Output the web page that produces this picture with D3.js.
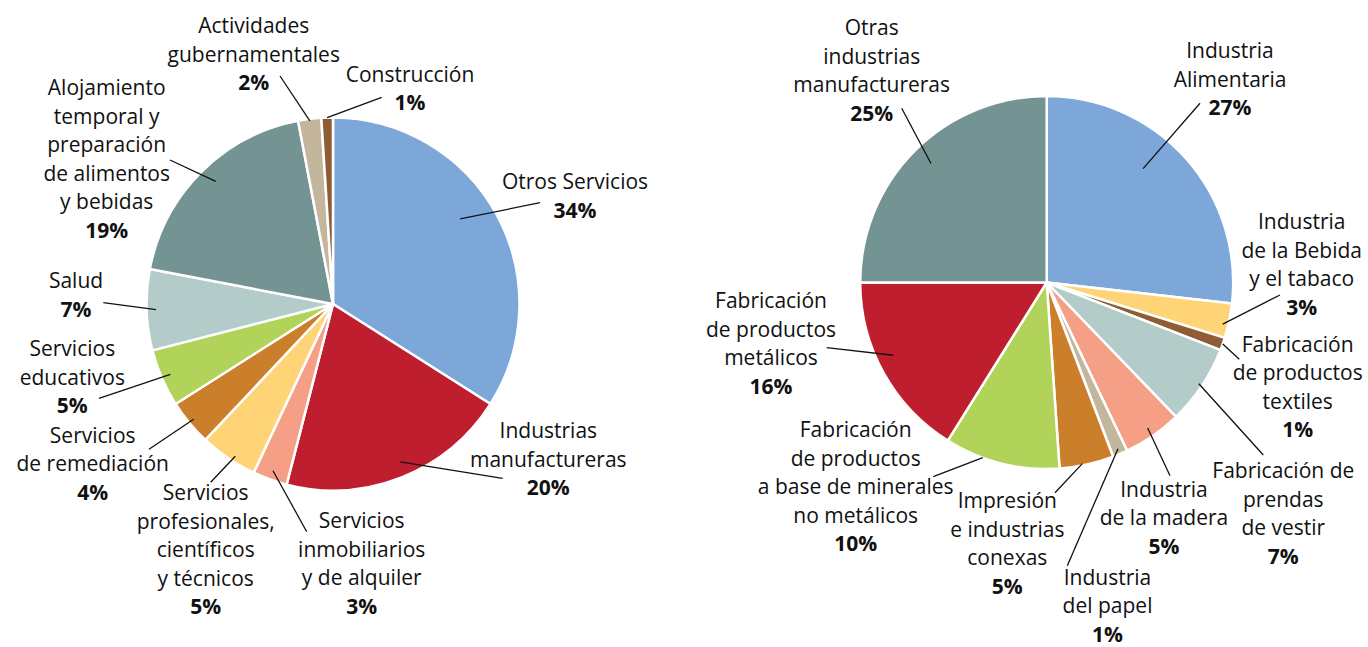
<!DOCTYPE html>
<html>
<head>
<meta charset="utf-8">
<script src="https://cdn.jsdelivr.net/npm/d3@7"></script>
<style>
  html, body { margin: 0; padding: 0; background: #fff; }
  svg { display: block; }
  text { font-family: "Open Sans", "Noto Sans", sans-serif; fill: #111; }
</style>
</head>
<body>
<svg id="chart" width="1368" height="647"></svg>
<script>
// ---------- DATA ----------
const leftCategories = [
  "Otros Servicios",
  "Industrias\nmanufactureras",
  "Servicios\ninmobiliarios\ny de alquiler",
  "Servicios\nprofesionales,\ncientíficos\ny técnicos",
  "Servicios\nde remediación",
  "Servicios\neducativos",
  "Salud",
  "Alojamiento\ntemporal y\npreparación\nde alimentos\ny bebidas",
  "Actividades\ngubernamentales",
  "Construcción"
];
const leftValues = [34, 20, 3, 5, 4, 5, 7, 19, 2, 1];

const rightCategories = [
  "Industria\nAlimentaria",
  "Industria\nde la Bebida\ny el tabaco",
  "Fabricación\nde productos\ntextiles",
  "Fabricación de\nprendas\nde vestir",
  "Industria\nde la madera",
  "Industria\ndel papel",
  "Impresión\ne industrias\nconexas",
  "Fabricación\nde productos\na base de minerales\nno metálicos",
  "Fabricación\nde productos\nmetálicos",
  "Otras\nindustrias\nmanufactureras"
];
const rightValues = [26.8, 3.0, 1.1, 6.9, 5.1, 1.3, 4.7, 10.0, 16.1, 25.0];

// ---------- STYLE ----------
const C = {
  blue: "#7da7d9", red: "#be1e2e", salmon: "#f5a086", yellow: "#ffd476",
  ochre: "#cc7f2b", green: "#b1d35a", mist: "#b4ccc9", slate: "#749393",
  tan: "#c4b69c", brown: "#8f5d35"
};
const leftColors  = [C.blue, C.red, C.salmon, C.yellow, C.ochre, C.green, C.mist, C.slate, C.tan, C.brown];
const rightColors = [C.blue, C.yellow, C.brown, C.mist, C.salmon, C.tan, C.ochre, C.green, C.red, C.slate];

// ---------- LAYOUT (label placement relative to pie centre) ----------
// tx,ty: label centre / first baseline; ex,ey: outer end of leader; r: inner end radius factor; da: angle nudge (deg)
const leftLayout = [
  {tx: 242,   ty: -114.7, ex: 207,   ey: -101.3, r: 0.82, da: -5},
  {tx: 215.3, ty: 134.3,  ex: 169.7, ey: 174.3,  r: 0.92, da: -1.5},
  {tx: 28.7,  ty: 224.3,  ex: -26.3, ey: 227.7,  r: 0.95, da: 0},
  {tx: -127.3,ty: 196,    ex: -122.3,ey: 178.3,  r: 0.97, da: -1.5},
  {tx: -240.3,ty: 138.7,  ex: -184,  ey: 145.3,  r: 0.97, da: 0},
  {tx: -260.7,ty: 52,     ex: -234,  ey: 94.3,   r: 0.95, da: 0},
  {tx: -257,  ty: -15.7,  ex: -229.7,ey: -1.3,   r: 0.95, da: 0},
  {tx: -226.3,ty: -209,   ex: -163,  ey: -144,   r: 0.91, da: 1.3},
  {tx: -79.3, ty: -270.7, ex: -53,   ey: -228,   r: 0.99, da: 0},
  {tx: 77,    ty: -222.3, ex: 48.7,  ey: -206.7, r: 1.0,  da: 0}
];
const rightLayout = [
  {tx: 183.3, ty: -224.2, ex: 153.3, ey: -179.2, r: 0.80, da: -8},
  {tx: 255,   ty: -53.2,  ex: 233.3, ey: 12.5,   r: 0.97, da: 1.4},
  {tx: 251,   ty: 69.2,   ex: 192.6, ey: 76.8,   r: 1.0,  da: 0},
  {tx: 236.6, ty: 195.8,  ex: 216.6, ey: 172.5,  r: 0.98, da: 0},
  {tx: 117.3, ty: 214.2,  ex: 123.3, ey: 193.2,  r: 0.95, da: 0},
  {tx: 60.8,  ty: 302.2,  ex: 20.6,  ey: 283.2,  r: 0.97, da: 0},
  {tx: -39.4, ty: 225.8,  ex: 8.3,   ey: 210.2,  r: 0.99, da: 1.3},
  {tx: -191,  ty: 154.8,  ex: -113.4,ey: 194.2,  r: 1.0,  da: 6},
  {tx: -275.7,ty: 25.8,   ex: -220,  ey: 65.2,   r: 0.91, da: 3.6},
  {tx: -175,  ty: -247.5, ex: -145,  ey: -174.2, r: 0.89, da: 0.8}
];

const svg = d3.select("#chart");
const R = 186.5;
const lineH = 28.5;
const fontSize = 21;

function drawPie(cx, cy, cats, vals, colors, layout) {
  const g = svg.append("g").attr("transform", `translate(${cx},${cy})`);
  const pie = d3.pie().sort(null).value(d => d);
  const arcs = pie(vals);
  const arc = d3.arc().innerRadius(0).outerRadius(R);

  g.selectAll("path.slice").data(arcs).join("path")
    .attr("class", "slice")
    .attr("d", arc)
    .attr("fill", (d, i) => colors[i])
    .attr("stroke", "#fff")
    .attr("stroke-width", 2.5)
    .attr("stroke-linejoin", "round");

  // leader lines
  g.selectAll("line.leader").data(arcs).join("line")
    .attr("class", "leader")
    .each(function(d, i) {
      const L = layout[i];
      const a = (d.startAngle + d.endAngle) / 2 + L.da * Math.PI / 180;
      const rr = R * L.r;
      d3.select(this)
        .attr("x1", Math.sin(a) * rr).attr("y1", -Math.cos(a) * rr)
        .attr("x2", L.ex).attr("y2", L.ey);
    })
    .attr("stroke", "#111")
    .attr("stroke-width", 1.3);

  // labels
  const lab = g.selectAll("text.lab").data(arcs).join("text")
    .attr("class", "lab")
    .attr("text-anchor", "middle")
    .attr("font-size", fontSize)
    .attr("transform", (d, i) => `translate(${layout[i].tx},${layout[i].ty})`);
  lab.each(function(d, i) {
    const t = d3.select(this);
    const lines = cats[i].split("\n");
    lines.forEach((ln, k) => {
      t.append("tspan").attr("x", 0).attr("y", k * lineH).text(ln);
    });
    t.append("tspan").attr("x", 0).attr("y", lines.length * lineH)
      .attr("font-weight", 700).text(Math.round(vals[i]) + "%");
  });
}

drawPie(333, 304, leftCategories, leftValues, leftColors, leftLayout);
drawPie(1046.7, 282.5, rightCategories, rightValues, rightColors, rightLayout);
</script>
</body>
</html>
